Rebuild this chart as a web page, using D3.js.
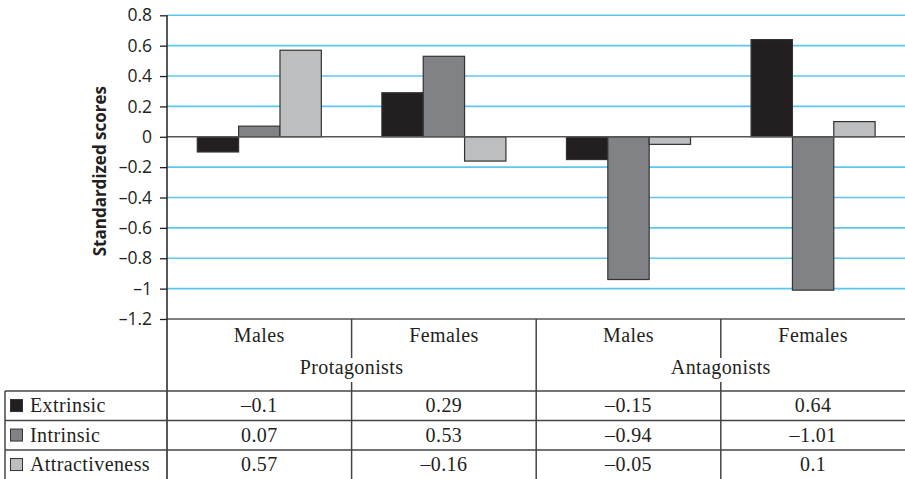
<!DOCTYPE html>
<html>
<head>
<meta charset="utf-8">
<script src="https://cdn.jsdelivr.net/npm/d3@7/dist/d3.min.js"></script>
<style>
  html, body { margin: 0; padding: 0; background: #fff; }
  svg { display: block; }
</style>
</head>
<body>
<svg id="chart" width="905" height="479"></svg>
<script>
// ---- data ----
const categories = ["Males", "Females", "Males ", "Females "];
const categoryLabels = ["Males", "Females", "Males", "Females"];
const groups = ["Protagonists", "Antagonists"];
const seriesNames = ["Extrinsic", "Intrinsic", "Attractiveness"];
const extrinsic = [-0.1, 0.29, -0.15, 0.64];
const intrinsic = [0.07, 0.53, -0.94, -1.01];
const attractiveness = [0.57, -0.16, -0.05, 0.1];
const extrinsicText = ["–0.1", "0.29", "–0.15", "0.64"];
const intrinsicText = ["0.07", "0.53", "–0.94", "–1.01"];
const attractivenessText = ["0.57", "–0.16", "–0.05", "0.1"];
const yTicks = [0.8, 0.6, 0.4, 0.2, 0, -0.2, -0.4, -0.6, -0.8, -1, -1.2];
const yTitle = "Standardized scores";

const seriesValues = [extrinsic, intrinsic, attractiveness];
const seriesText = [extrinsicText, intrinsicText, attractivenessText];
const colors = ["#231f20", "#808285", "#bcbec0"];

// ---- layout ----
const svg = d3.select("#chart");
const pLeft = 167, pRight = 905.4, pTop = 15.3, pBottom = 319;
const tableLeft = 5;
const rowLines = [391, 420.5, 450, 479.5];

const x0 = d3.scaleBand().domain(categories).range([pLeft, pRight]).padding(0);
const bw = x0.bandwidth();
const x1 = d3.scaleBand().domain(seriesNames).range([bw * 0.164, bw * 0.836]).padding(0);
const y = d3.scaleLinear().domain([-1.2, 0.8]).range([pBottom, pTop]);

const fmt = v => (v < 0 ? "–" : "") + d3.format("")(Math.abs(v));

// gridlines
svg.append("g").selectAll("line")
  .data(yTicks.filter(t => t !== 0 && t !== -1.2))
  .join("line")
  .attr("x1", pLeft).attr("x2", 905)
  .attr("y1", d => y(d)).attr("y2", d => y(d))
  .attr("stroke", "#5cc8f2").attr("stroke-width", 1.6);

// y axis
const yAxis = d3.axisLeft(y).tickValues(yTicks).tickSize(7).tickPadding(8).tickFormat(fmt);
const ga = svg.append("g").attr("transform", `translate(${pLeft},0)`).call(yAxis);
ga.select(".domain").remove();
ga.selectAll(".tick line").attr("stroke", "#231f20").attr("stroke-width", 1.3);
ga.selectAll(".tick text")
  .attr("fill", "#231f20")
  .style("font-family", "'Open Sans', sans-serif")
  .style("font-size", "17.5px");

// bars
const bars = svg.append("g");
seriesNames.forEach((s, si) => {
  bars.append("g").selectAll("rect")
    .data(seriesValues[si].map((v, i) => ({ v, c: categories[i] })))
    .join("rect")
    .attr("x", d => x0(d.c) + x1(s))
    .attr("width", x1.bandwidth())
    .attr("y", d => y(Math.max(0, d.v)))
    .attr("height", d => Math.abs(y(d.v) - y(0)))
    .attr("fill", colors[si])
    .attr("stroke", "#333")
    .attr("stroke-width", 1.2);
});

// zero line
svg.append("line")
  .attr("x1", pLeft).attr("x2", 905).attr("y1", y(0)).attr("y2", y(0))
  .attr("stroke", "#555").attr("stroke-width", 1.5);

// bottom (-1.2) line
svg.append("line")
  .attr("x1", pLeft).attr("x2", 905).attr("y1", y(-1.2)).attr("y2", y(-1.2))
  .attr("stroke", "#555").attr("stroke-width", 1.5);

// y axis line (extends through table)
svg.append("line")
  .attr("x1", pLeft).attr("x2", pLeft).attr("y1", y(0.8)).attr("y2", 479)
  .attr("stroke", "#231f20").attr("stroke-width", 1.5);

// y title
svg.append("text")
  .attr("transform", `translate(106,${(pTop + pBottom) / 2 + 4}) rotate(-90)`)
  .attr("text-anchor", "middle")
  .style("font-family", "'Open Sans', sans-serif")
  .style("font-weight", "bold")
  .style("font-size", "17px")
  .attr("fill", "#231f20")
  .text(yTitle);

// ---- table ----
const serif = "'Liberation Serif', 'Times New Roman', serif";
const tbl = svg.append("g");

tbl.selectAll("line.row").data(rowLines.slice(0, 3)).join("line")
  .attr("x1", tableLeft).attr("x2", 905)
  .attr("y1", d => d).attr("y2", d => d)
  .attr("stroke", "#444").attr("stroke-width", 1.5);

tbl.append("line")
  .attr("x1", tableLeft).attr("x2", tableLeft).attr("y1", rowLines[0]).attr("y2", 479)
  .attr("stroke", "#444").attr("stroke-width", 1.5);

categories.slice(1).forEach((c, i) => {
  const xx = x0(c);
  if (i === 1) {
    tbl.append("line").attr("x1", xx).attr("x2", xx).attr("y1", pBottom).attr("y2", 479)
      .attr("stroke", "#444").attr("stroke-width", 1.5);
  } else {
    tbl.append("line").attr("x1", xx).attr("x2", xx).attr("y1", pBottom).attr("y2", 358)
      .attr("stroke", "#444").attr("stroke-width", 1.5);
    tbl.append("line").attr("x1", xx).attr("x2", xx).attr("y1", 382).attr("y2", 479)
      .attr("stroke", "#444").attr("stroke-width", 1.5);
  }
});

const serifText = sel => sel
  .style("font-family", serif).style("font-size", "20px")
  .style("letter-spacing", "0.4px")
  .attr("fill", "#231f20");

tbl.selectAll("text.cat").data(categories).join("text")
  .attr("x", d => x0(d) + bw / 2).attr("y", 342)
  .attr("text-anchor", "middle")
  .call(serifText)
  .text((d, i) => categoryLabels[i]);

groups.forEach((g, gi) => {
  const cx = x0(categories[gi * 2 + 1]);
  tbl.append("text")
    .attr("x", cx).attr("y", 374)
    .attr("text-anchor", "middle")
    .call(serifText)
    .text(g);
});

seriesNames.forEach((s, si) => {
  const yTop = rowLines[si], yBot = rowLines[si + 1];
  const base = yBot - 8.5;
  const mid = (yTop + yBot) / 2;
  tbl.append("rect")
    .attr("x", 10.5).attr("y", mid - 6.2).attr("width", 12).attr("height", 12)
    .attr("fill", colors[si]).attr("stroke", "#333").attr("stroke-width", 1);
  tbl.append("text")
    .attr("x", 30).attr("y", base)
    .call(serifText)
    .text(s);
  tbl.append("g").selectAll("text").data(seriesText[si]).join("text")
    .attr("x", (d, i) => x0(categories[i]) + bw / 2).attr("y", base)
    .attr("text-anchor", "middle")
    .call(serifText)
    .text(d => d);
});
</script>
</body>
</html>
